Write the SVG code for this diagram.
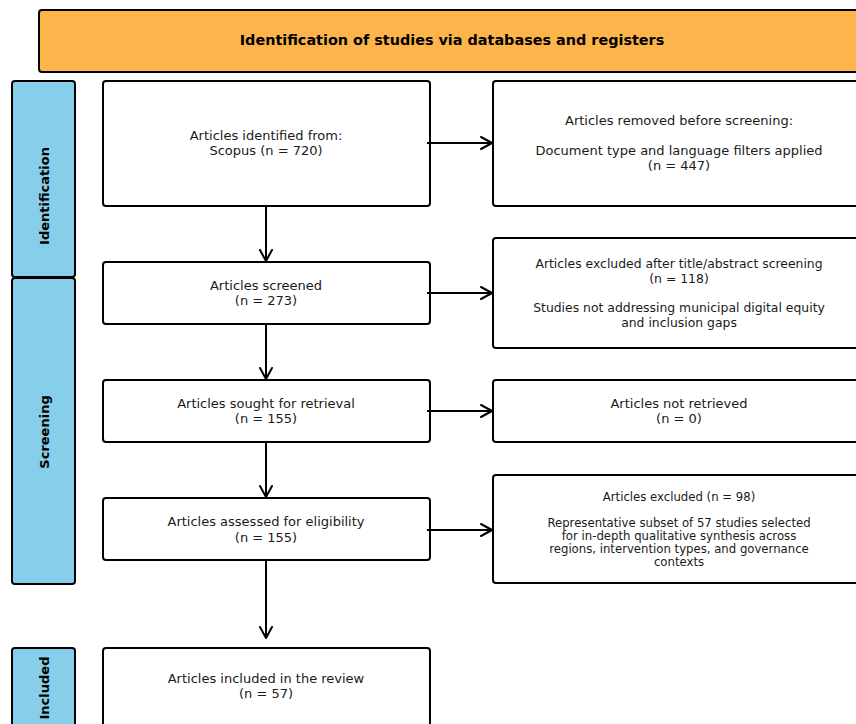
<svg xmlns="http://www.w3.org/2000/svg" width="856" height="724" viewBox="0 0 856 724">
<defs>
<style>
.box{fill:#ffffff;stroke:#000000;stroke-width:2}
.hdr{fill:#FDB54B;stroke:#000000;stroke-width:2}
.side{fill:#87CEEB;stroke:#000000;stroke-width:2}
.t{font-family:"DejaVu Sans",sans-serif;font-size:13px;fill:#1a1a1a;text-anchor:middle;dominant-baseline:central}
.tm{font-family:"DejaVu Sans",sans-serif;font-size:12.4px;fill:#1a1a1a;text-anchor:middle;dominant-baseline:central}
.ts{font-family:"DejaVu Sans",sans-serif;font-size:11.7px;fill:#1a1a1a;text-anchor:middle;dominant-baseline:central}
.tb{font-family:"DejaVu Sans",sans-serif;font-size:13px;font-weight:bold;fill:#000000;text-anchor:middle;dominant-baseline:central}
.th{font-family:"DejaVu Sans",sans-serif;font-size:14.4px;font-weight:bold;fill:#000000;text-anchor:middle;dominant-baseline:central}
.conn{stroke:#000000;stroke-width:2;fill:none}
.head{stroke:#000000;stroke-width:2;fill:none;stroke-linecap:round;stroke-linejoin:round}
</style>
</defs>
<rect width="856" height="724" fill="#ffffff"/>

<g id="header">
<rect class="hdr" x="39" y="10" width="830" height="62" rx="3"/>
<text class="th" x="452" y="40">Identification of studies via databases and registers</text>
</g>

<g id="phase-identification">
<rect class="side" x="12" y="81" width="63" height="196" rx="3"/>
<text class="tb" transform="translate(44,196) rotate(-90)">Identification</text>
</g>
<g id="phase-screening">
<rect class="side" x="12" y="278" width="63" height="306" rx="3"/>
<text class="tb" transform="translate(44,432) rotate(-90)">Screening</text>
</g>
<g id="phase-included">
<rect class="side" x="12" y="648" width="63" height="84" rx="3"/>
<text class="tb" transform="translate(44,688) rotate(-90)">Included</text>
</g>

<g id="identified">
<rect class="box" x="103" y="81" width="327" height="125" rx="3"/>
<text class="t" x="266" y="135">Articles identified from:</text>
<text class="t" x="266" y="150">Scopus (n = 720)</text>
</g>
<g id="removed">
<rect class="box" x="493" y="81" width="376" height="125" rx="3"/>
<text class="t" x="679" y="120">Articles removed before screening:</text>
<text class="t" x="679" y="150">Document type and language filters applied</text>
<text class="t" x="679" y="165">(n = 447)</text>
</g>
<g id="screened">
<rect class="box" x="103" y="262" width="327" height="62" rx="3"/>
<text class="t" x="266" y="285">Articles screened</text>
<text class="t" x="266" y="300">(n = 273)</text>
</g>
<g id="excluded-title">
<rect class="box" x="493" y="238" width="376" height="110" rx="3"/>
<text class="tm" x="679" y="263">Articles excluded after title/abstract screening</text>
<text class="tm" x="679" y="278">(n = 118)</text>
<text class="tm" x="679" y="307">Studies not addressing municipal digital equity</text>
<text class="tm" x="679" y="322">and inclusion gaps</text>
</g>
<g id="sought">
<rect class="box" x="103" y="380" width="327" height="62" rx="3"/>
<text class="t" x="266" y="403">Articles sought for retrieval</text>
<text class="t" x="266" y="418">(n = 155)</text>
</g>
<g id="not-retrieved">
<rect class="box" x="493" y="380" width="376" height="62" rx="3"/>
<text class="t" x="679" y="403">Articles not retrieved</text>
<text class="t" x="679" y="418">(n = 0)</text>
</g>
<g id="assessed">
<rect class="box" x="103" y="498" width="327" height="62" rx="3"/>
<text class="t" x="266" y="521">Articles assessed for eligibility</text>
<text class="t" x="266" y="537">(n = 155)</text>
</g>
<g id="excluded-eligibility">
<rect class="box" x="493" y="475" width="376" height="108" rx="3"/>
<text class="ts" x="679" y="497">Articles excluded (n = 98)</text>
<text class="ts" x="679" y="523">Representative subset of 57 studies selected</text>
<text class="ts" x="679" y="536">for in-depth qualitative synthesis across</text>
<text class="ts" x="679" y="549">regions, intervention types, and governance</text>
<text class="ts" x="679" y="562">contexts</text>
</g>
<g id="included">
<rect class="box" x="103" y="648" width="327" height="84" rx="3"/>
<text class="t" x="266" y="678">Articles included in the review</text>
<text class="t" x="266" y="693">(n = 57)</text>
</g>

<g id="connectors">
<line class="conn" x1="427" y1="143" x2="492" y2="143"/>
<polyline class="head" points="481,137 492,143 481,149"/>
<line class="conn" x1="427" y1="293" x2="492" y2="293"/>
<polyline class="head" points="481,287 492,293 481,299"/>
<line class="conn" x1="427" y1="411" x2="492" y2="411"/>
<polyline class="head" points="481,405 492,411 481,417"/>
<line class="conn" x1="427" y1="530" x2="492" y2="530"/>
<polyline class="head" points="481,524 492,530 481,536"/>

<line class="conn" x1="266" y1="206" x2="266" y2="261"/>
<polyline class="head" points="260,250 266,261 272,250"/>
<line class="conn" x1="266" y1="324" x2="266" y2="379"/>
<polyline class="head" points="260,368 266,379 272,368"/>
<line class="conn" x1="266" y1="442" x2="266" y2="497"/>
<polyline class="head" points="260,486 266,497 272,486"/>
<line class="conn" x1="266" y1="560" x2="266" y2="638"/>
<polyline class="head" points="260,627 266,638 272,627"/>
</g>
</svg>
